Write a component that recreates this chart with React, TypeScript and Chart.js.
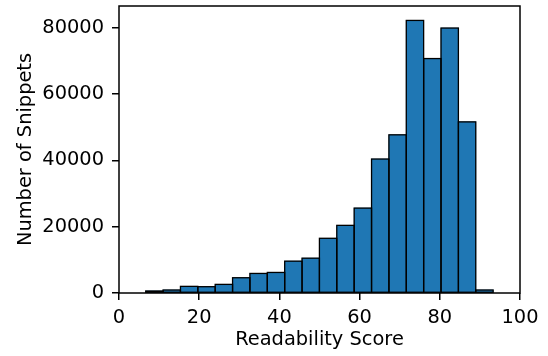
import React, { useEffect, useRef } from "react";
import { Chart, registerables } from "chart.js";

Chart.register(...registerables);

const binEdges = [6.66, 10.99, 15.32, 19.66, 23.99, 28.32, 32.65, 36.98, 41.32, 45.65, 49.98, 54.31, 58.64, 62.98, 67.31, 71.64, 75.97, 80.3, 84.64, 88.97, 93.3];
const counts = [600, 900, 2000, 1900, 2600, 4600, 5900, 6200, 9600, 10500, 16500, 20400, 25600, 40400, 47700, 82200, 70700, 79900, 51600, 900];
const xTicks = [0, 20, 40, 60, 80, 100];
const yTicks = [0, 20000, 40000, 60000, 80000];
const xLabel = "Readability Score";
const yLabel = "Number of Snippets";

const FONT = "'DejaVu Sans', sans-serif";
const FS = 19.4;

const histEdges = {
  id: "histEdges",
  afterDatasetsDraw(chart: any) {
    const ctx = chart.ctx;
    const meta = chart.getDatasetMeta(0);
    ctx.save();
    ctx.lineWidth = 1.3;
    ctx.strokeStyle = "#000";
    meta.data.forEach((el: any) => {
      const p = el.getProps(["x", "y", "base", "width"], true);
      ctx.strokeRect(p.x - p.width / 2, p.y, p.width, p.base - p.y);
    });
    ctx.restore();
  },
};

const frame = {
  id: "frame",
  afterDraw(chart: any) {
    const { left, top, right, bottom } = chart.chartArea;
    const ctx = chart.ctx;
    ctx.save();
    ctx.lineWidth = 1.5;
    ctx.strokeStyle = "#000";
    ctx.strokeRect(left, top, right - left, bottom - top);
    ctx.restore();
  },
};

export default function App() {
  const ref = useRef<HTMLCanvasElement | null>(null);
  useEffect(() => {
    document.body.style.margin = "0";
    const canvas = ref.current!;
    const data = counts.map((c, i) => ({ x: (binEdges[i] + binEdges[i + 1]) / 2, y: c }));
    const chart = new Chart(canvas, {
      type: "bar",
      data: {
        datasets: [
          {
            data: data as any,
            backgroundColor: "#1f77b4",
            borderWidth: 0,
            barPercentage: 1,
            categoryPercentage: 1,
          },
        ],
      },
      plugins: [histEdges, frame],
      options: {
        animation: false,
        responsive: false,
        devicePixelRatio: 1,
        layout: { padding: { left: 0, right: 28, top: 6, bottom: 0 } },
        plugins: { legend: { display: false }, tooltip: { enabled: false } },
        scales: {
          x: {
            type: "linear",
            min: 0,
            max: 100,
            offset: false,
            afterBuildTicks: (axis: any) => {
              axis.ticks = xTicks.map((v) => ({ value: v }));
            },
            afterFit: (axis: any) => {
              axis.height = 63;
              axis.paddingLeft = 0;
              axis.paddingRight = 0;
            },
            grid: {
              offset: false,
              drawOnChartArea: false,
              drawTicks: true,
              tickLength: 7,
              color: "#000",
              lineWidth: 1.5,
            },
            border: { display: false },
            ticks: {
              color: "#000",
              font: { family: FONT, size: FS },
              padding: 6,
              maxRotation: 0,
              autoSkip: false,
              callback: (v: any) => String(v),
            },
            title: {
              display: true,
              text: xLabel,
              color: "#000",
              font: { family: FONT, size: FS },
              padding: { top: 0, bottom: 4 },
            },
          },
          y: {
            type: "linear",
            min: 0,
            max: 86550,
            afterBuildTicks: (axis: any) => {
              axis.ticks = yTicks.map((v) => ({ value: v }));
            },
            afterFit: (axis: any) => {
              axis.width = 119;
              axis.paddingTop = 0;
              axis.paddingBottom = 0;
            },
            grid: {
              drawOnChartArea: false,
              drawTicks: true,
              tickLength: 7,
              color: "#000",
              lineWidth: 1.5,
            },
            border: { display: false },
            ticks: {
              color: "#000",
              font: { family: FONT, size: FS },
              padding: 8,
              autoSkip: false,
              callback: (v: any) => String(v),
            },
            title: {
              display: true,
              text: yLabel,
              color: "#000",
              font: { family: FONT, size: FS },
              padding: { top: 14, bottom: 0 },
            },
          },
        },
      },
    });
    return () => chart.destroy();
  }, []);
  return <canvas ref={ref} width={548} height={356} style={{ display: "block", width: 548, height: 356 }} />;
}
